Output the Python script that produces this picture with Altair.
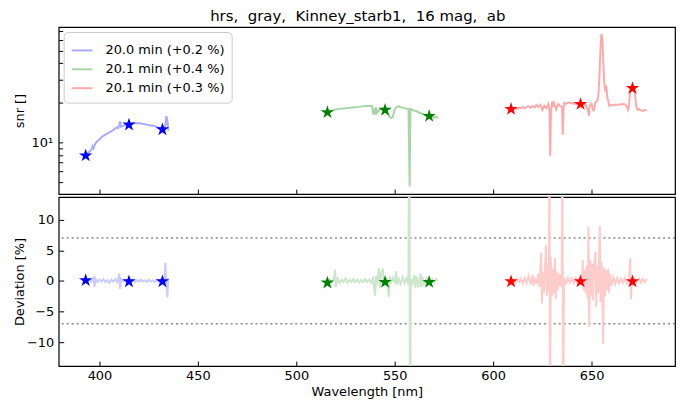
import altair as alt
import pandas as pd

TITLE = "hrs, \u00a0gray, \u00a0Kinney_starb1, \u00a016 mag, \u00a0ab"
SERIES = ["20.0 min (+0.2 %)", "20.1 min (+0.4 %)", "20.1 min (+0.3 %)"]
STAR_COLORS = ["#0000ff", "#008000", "#ff0000"]
TOP_COLORS = ["#aaaaff", "#a8d4a8", "#ffaaaa"]
BOT_COLORS = ["#ccccff", "#cce6cc", "#ffcccc"]

X_TICKS = [400, 450, 500, 550, 600, 650]
SNR_TICKS = [5, 6, 7, 8, 9, 10, 20, 30, 40, 50, 60, 70]
DEV_TICKS = [-10, -5, 0, 5, 10]
DEV_LIMITS = [7, -7]

# top panel: (wavelength nm, snr)
snr_blue = [(393, 7.9), (394, 8.2), (395, 8.5), (396, 8.8), (396.5, 9.3), (397, 9.0), (398, 9.8),
            (399, 10.2), (400, 10.5), (401, 10.9), (402, 11.2), (403, 11.4), (404, 11.6), (405, 11.9),
            (406, 12.1), (407, 12.4), (408, 12.7), (409, 13.0), (409.5, 12.8), (410, 13.4), (410.5, 14.4),
            (411, 13.1), (412, 13.3), (413, 13.5), (414, 13.6), (415, 13.6), (416, 13.7), (417, 13.9),
            (418, 14.0), (419, 13.9), (420, 14.0), (421, 13.9), (422, 13.8), (423, 13.7), (424, 13.6),
            (425, 13.5), (426, 13.4), (427, 13.4), (428, 13.3), (429, 13.1), (430, 12.9), (431, 12.8),
            (432, 12.6), (433, 12.8), (433.5, 13.5), (434, 15.8), (434.5, 14.8), (435, 12.2)]
snr_green = [(516, 16.9), (517, 17.2), (518, 17.5), (519, 17.6), (520, 17.8), (522, 18.0), (524, 18.1),
             (526, 18.2), (528, 18.4), (530, 18.5), (532, 18.6), (534, 18.8), (536, 18.9), (538, 19.0),
             (538.5, 18.9), (539, 16.3), (539.5, 18.0), (540, 16.2), (540.5, 18.5), (541, 16.8), (542, 17.5),
             (543, 17.9), (544, 18.2), (545, 17.6), (546, 17.2), (547, 16.0), (548, 15.3), (549, 15.5),
             (550, 17.8), (551, 18.6), (552, 18.8), (553, 18.5), (554, 18.4), (555, 18.2), (556, 18.0),
             (557, 17.9), (557.6, 4.6), (558, 18.0), (558.5, 17.9), (559, 17.6), (560, 17.4), (561, 17.3),
             (562, 16.9), (563, 16.7), (564, 16.5), (565, 16.3), (566, 16.0), (567, 15.8), (568, 15.7),
             (569, 15.6), (570, 15.4), (571, 15.6), (572, 15.3)]
snr_red = [(609, 17.9), (610, 18.0), (611, 18.2), (612, 17.8), (613, 18.3), (614, 18.1), (615, 18.6),
           (616, 18.2), (617, 18.5), (618, 18.8), (619, 18.3), (620, 18.9), (621, 18.4), (622, 19.2),
           (623, 18.6), (624, 19.3), (625, 17.6), (626, 19.0), (627, 18.2), (628, 19.5), (628.6, 17.5),
           (629, 7.8), (629.4, 17.0), (630, 20.4), (630.6, 18.6), (631, 19.8), (632, 17.8), (633, 19.6),
           (634, 19.0), (635, 18.5), (635.4, 11.4), (635.8, 18.2), (636, 19.9), (637, 19.6), (638, 20.0),
           (639, 20.1), (640, 19.7), (641, 19.9), (642, 19.5), (643, 19.8), (644, 19.5), (645, 19.4),
           (646, 19.6), (647, 19.2), (648, 17.8), (648.7, 15.9), (649, 19.0), (650, 19.6), (651, 17.2),
           (652, 20.2), (652.5, 20.4), (653, 20.8), (653.5, 23.0), (654, 32.0), (654.5, 50.0), (655, 67.0),
           (655.5, 62.0), (656, 40.0), (656.5, 28.0), (657, 24.3), (657.5, 27.0), (658, 22.0), (659, 19.0),
           (660, 19.3), (661, 19.1), (662, 19.4), (663, 19.2), (664, 19.5), (665, 19.3), (666, 19.6),
           (667, 19.4), (668, 18.6), (668.5, 17.7), (669, 19.0), (669.5, 24.0), (670, 25.5), (670.5, 25.8),
           (671, 25.2), (671.5, 24.4), (672, 24.0), (672.5, 20.0), (673, 18.0), (673.5, 17.7), (674, 17.9),
           (675, 17.5), (676, 17.3), (677, 17.6), (678, 17.5)]

# bottom panel: (wavelength nm, deviation %)
dev_blue = [(393, 0.1), (394, -0.2), (395, 0.2), (396, -0.1), (397, 0.5), (397.5, -1.0), (398, 0.4),
            (399, -0.2), (400, 0.2), (401, -0.1), (402, 0.3), (403, -0.2), (404, 0.1), (405, -0.3),
            (406, 0.2), (407, -0.1), (408, 0.3), (409, -0.2), (409.5, 0.4), (410, 1.2), (410.5, -1.3),
            (411, 0.3), (412, -0.1), (413, 0.2), (414, -0.2), (415, 0.1), (416, -0.1), (417, 0.2),
            (418, -0.2), (419, 0.1), (420, -0.1), (421, 0.2), (422, -0.1), (423, 0.1), (424, -0.2),
            (425, 0.2), (426, -0.1), (427, 0.1), (428, -0.2), (429, 0.2), (430, -0.1), (431, 0.2),
            (432, -0.1), (433, 0.3), (433.5, 3.0), (434, -0.8), (434.5, -2.7), (435, 0.5)]
dev_green = [(516, -0.3), (517, 0.2), (518, -0.3), (519, 0.3), (519.7, 1.8), (520, -1.0), (521, 0.4),
             (522, -0.3), (523, 0.2), (524, -0.2), (525, 0.4), (526, -0.3), (527, 0.2), (528, -0.2),
             (529, 0.3), (530, -0.2), (531, 0.2), (532, -0.3), (533, 0.2), (534, -0.2), (535, 0.3),
             (536, -0.2), (537, 0.2), (538, -0.3), (539, 0.4), (540, -2.4), (540.5, 0.8), (541, -0.6),
             (542, 2.1), (542.5, -1.2), (543, 1.0), (544, 2.0), (544.5, -0.8), (545, 0.3), (545.5, -0.2),
             (546, 0.5), (546.5, -1.0), (547, -2.6), (547.5, 0.8), (548, -0.4), (549, 0.5), (550, -0.3),
             (550.7, 1.6), (551, -0.6), (552, 0.4), (553, -0.5), (554, 0.6), (555, -0.4), (556, 0.5),
             (557, -0.6), (557.4, 40.0), (557.8, -40.0), (558.1, 0.3), (559, -0.5), (560, 1.0),
             (560.5, -1.2), (561, 0.8), (562, -1.1), (563, 1.2), (563.5, -1.0), (564, 0.7), (565, -0.8),
             (566, 0.4), (567, -0.3), (568, -0.1), (569, 0.3), (570, -0.3), (571, 0.3), (572, 0.0)]
dev_red = [(609, 0.0), (610, 0.2), (611, -0.3), (612, 0.3), (613, -0.2), (614, 0.4), (615, -0.4),
           (616, 0.5), (617, -0.3), (618, 0.8), (619, -0.6), (620, 1.0), (620.5, -0.8), (621, 0.6),
           (622, -0.5), (623, 1.2), (623.5, -1.0), (624.4, 4.6), (624.8, -3.7), (625.3, 1.5),
           (625.8, -2.0), (626.8, 5.9), (627.3, -2.5), (627.8, 2.8), (628.3, -1.8), (628.6, 30.0),
           (628.9, -30.0), (629.3, 4.0), (629.8, -2.5), (630.3, 2.0), (630.8, -2.0), (631.4, 3.8),
           (631.8, -3.0), (632.3, 1.5), (632.8, -1.5), (633.3, 1.2), (633.8, -0.8), (634.3, 0.9),
           (634.8, -1.0), (635.2, 30.0), (635.5, -30.0), (636, 0.6), (637, -0.4), (638, 0.5), (639, -0.3),
           (640, 0.4), (641, -0.3), (642, 0.5), (643, -0.4), (644, 0.6), (645, -0.4), (645.5, 3.4),
           (646, -1.5), (646.5, 1.8), (647, -2.0), (647.5, 2.5), (648, -3.0), (648.4, 8.9), (648.8, -7.5),
           (649.3, 3.5), (649.8, -2.5), (650.3, 2.8), (650.8, -3.2), (651.3, 2.6), (652, 4.7),
           (652.4, -4.3), (652.9, 2.5), (653.4, -2.0), (654.2, 9.0), (654.6, -3.5), (655.1, 3.0),
           (655.9, -10.3), (656.3, 2.2), (656.8, -2.5), (657.3, 1.8), (657.8, -1.5), (658.4, 2.0),
           (658.8, -2.0), (659.3, 1.2), (660, -0.8), (661, 0.6), (662, -0.5), (663, 0.5), (664, -0.4),
           (665, 0.4), (666, -0.3), (667, 0.5), (668, -0.4), (669, 0.3), (669.7, 3.7), (670, -3.0),
           (670.5, 0.6), (671, -0.4), (672, 0.3), (673, -0.2), (674, 0.4), (675, -0.3), (676, 0.3),
           (677, -0.2), (678, 0.3)]

# star markers
star_wl = [[393, 415, 432], [515.8, 545.1, 567.5], [609.1, 644.4, 670.8]]
star_snr = [[7.9, 13.6, 12.5], [16.9, 17.6, 15.8], [17.9, 19.5, 25.8]]
star_dev = [[0.1, -0.1, -0.1], [-0.3, -0.2, -0.2], [-0.1, -0.1, -0.1]]

STAR = ("M0,-1 L0.2245,-0.309 L0.9511,-0.309 L0.3633,0.118 L0.5878,0.809 L0,0.382 "
        "L-0.5878,0.809 L-0.3633,0.118 L-0.9511,-0.309 L-0.2245,-0.309 Z")

top_rows, bot_rows, star_rows = [], [], []
for name, pairs in zip(SERIES, [snr_blue, snr_green, snr_red]):
    for w, v in pairs:
        top_rows.append({"series": name, "wl": w, "snr": v})
for name, pairs in zip(SERIES, [dev_blue, dev_green, dev_red]):
    for w, v in pairs:
        bot_rows.append({"series": name, "wl": w, "dev": v})
for i, name in enumerate(SERIES):
    for w, s, d in zip(star_wl[i], star_snr[i], star_dev[i]):
        star_rows.append({"series": name, "wl": w, "snr": s, "dev": d, "color": STAR_COLORS[i]})

top_df = pd.DataFrame(top_rows)
bot_df = pd.DataFrame(bot_rows)
star_df = pd.DataFrame(star_rows)
lim_df = pd.DataFrame({"dev": DEV_LIMITS})

x_scale = alt.Scale(domain=[379.3, 692.4], nice=False, zero=False)
x_top = alt.X("wl:Q", scale=x_scale,
              axis=alt.Axis(values=X_TICKS, labels=False, title=None, offset=-5, tickSize=5))
x_bot = alt.X("wl:Q", scale=x_scale,
              axis=alt.Axis(values=X_TICKS, title="Wavelength [nm]", offset=-5, tickSize=5,
                            labelPadding=4, titlePadding=3))

snr_scale = alt.Scale(type="log", domain=[4.02, 75.6], nice=False, zero=False)
y_top = alt.Y("snr:Q", scale=snr_scale,
              axis=alt.Axis(values=SNR_TICKS, labelExpr="datum.value == 10 ? '10¹' : ''",
                            title="snr []", offset=-4, tickSize=4, labelPadding=6,
                            titleX=-36, titleY=84))
dev_scale = alt.Scale(domain=[-13.9, 13.7], nice=False, zero=False)
y_bot = alt.Y("dev:Q", scale=dev_scale,
              axis=alt.Axis(values=DEV_TICKS, title="Deviation [%]", offset=-5, tickSize=5,
                            labelPadding=5, titleX=-37, titleY=85))

top_lines = alt.Chart(top_df).mark_line(clip=True, strokeWidth=2).encode(
    x=x_top, y=y_top,
    color=alt.Color("series:N", scale=alt.Scale(domain=SERIES, range=TOP_COLORS),
                    legend=alt.Legend(orient="top-left", offset=5, padding=7, title=None,
                                      strokeColor="#cccccc", cornerRadius=4, fillColor="white",
                                      symbolType="stroke", symbolStrokeWidth=2, symbolSize=441,
                                      labelFontSize=13, labelFont="DejaVu Sans", labelOffset=12,
                                      rowPadding=0)))
top_stars = alt.Chart(star_df).mark_point(shape=STAR, filled=True, size=200, opacity=1,
                                          strokeWidth=0).encode(
    x=x_top, y="snr:Q", color=alt.Color("color:N", scale=None))
top = alt.layer(top_lines, top_stars).properties(width=620, height=168)

bot_rules = alt.Chart(lim_df).mark_rule(strokeDash=[2, 3], color="#888888", strokeWidth=1.5).encode(
    y=alt.Y("dev:Q", scale=dev_scale))
bot_lines = alt.Chart(bot_df).mark_line(clip=True, strokeWidth=2).encode(
    x=x_bot, y=y_bot,
    color=alt.Color("series:N", scale=alt.Scale(domain=SERIES, range=BOT_COLORS), legend=None))
bot_stars = alt.Chart(star_df).mark_point(shape=STAR, filled=True, size=200, opacity=1,
                                          strokeWidth=0).encode(
    x=x_bot, y="dev:Q", color=alt.Color("color:N", scale=None))
bottom = alt.layer(bot_rules, bot_lines, bot_stars).properties(width=620, height=170)

chart = alt.vconcat(top, bottom, spacing=0).resolve_scale(color="independent").properties(
    title=alt.TitleParams(TITLE, fontSize=15, font="DejaVu Sans", fontWeight="normal",
                          anchor="middle", offset=2, dx=13, color="black"),
    padding={"left": 5, "top": 0, "right": 0, "bottom": 0},
).configure_axis(
    labelFont="DejaVu Sans", labelFontSize=13, labelColor="black",
    titleFont="DejaVu Sans", titleFontSize=13, titleFontWeight="normal", titleColor="black",
    domain=False, grid=False, tickColor="black", tickWidth=1,
).configure_view(stroke="black", strokeWidth=1.2)

chart.save("out.html", embed_options={"renderer": "svg", "actions": False})
